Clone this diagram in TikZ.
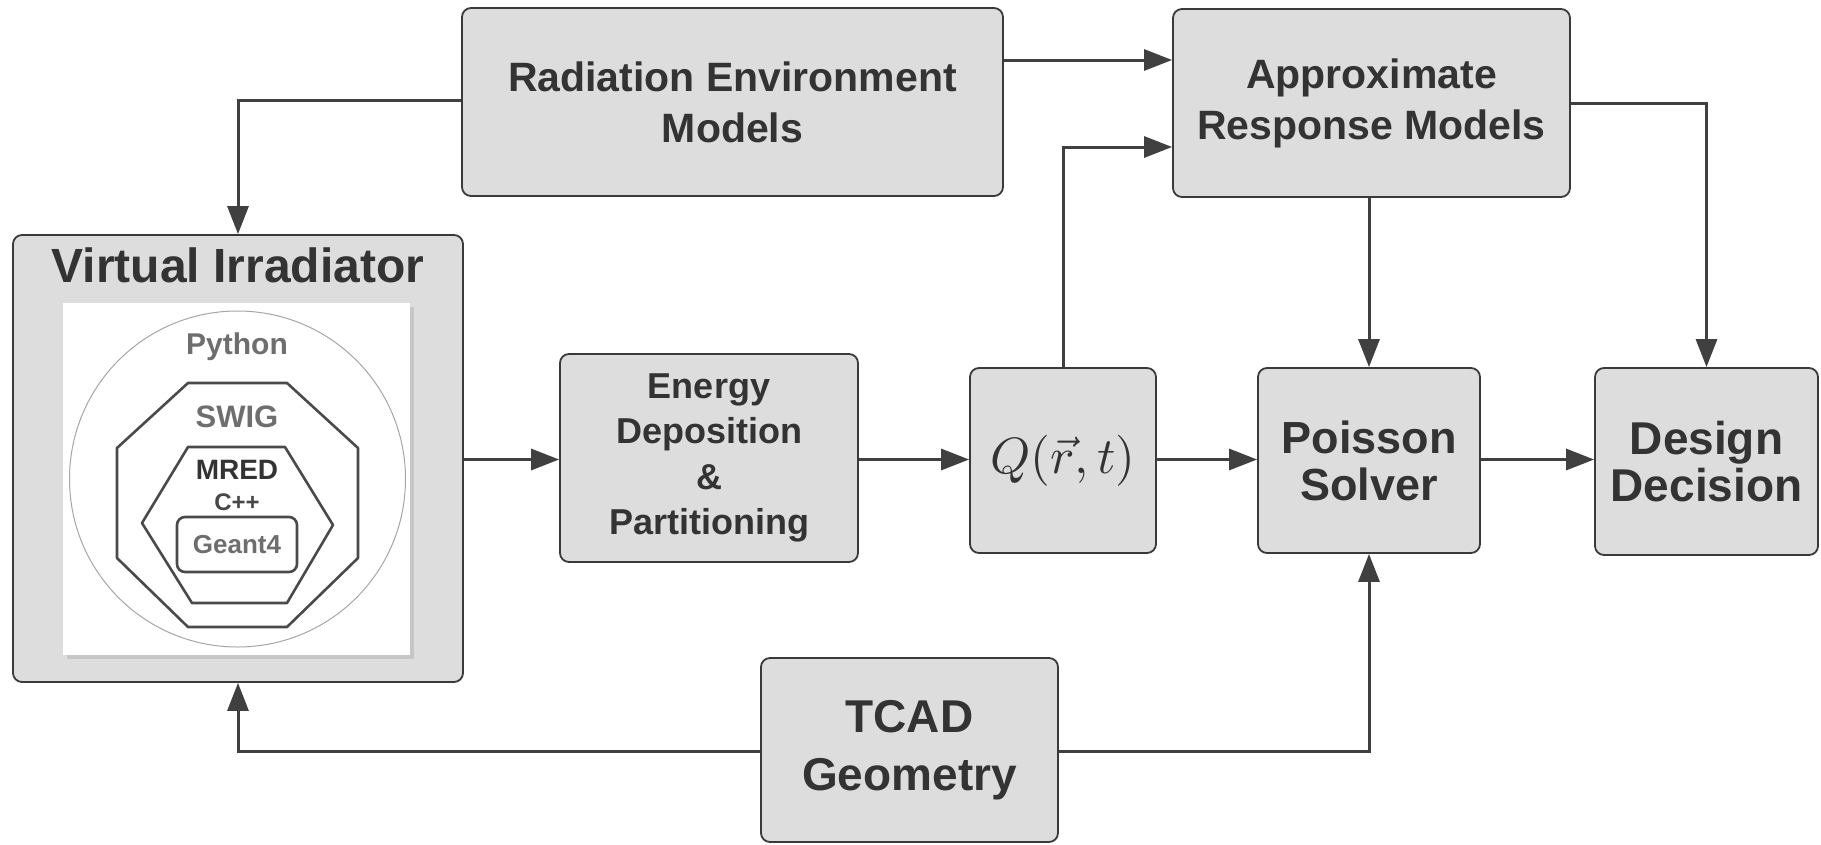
\documentclass[tikz,border=0pt]{standalone}
\usepackage{graphicx}
\usepackage{fontspec}
\setmainfont{Liberation Sans}
\usetikzlibrary{arrows.meta,calc}
\definecolor{boxfill}{HTML}{DDDDDD}
\definecolor{boxline}{HTML}{3A3A3A}
\definecolor{txt}{HTML}{333333}
\definecolor{conncol}{HTML}{404040}
\definecolor{lightxt}{HTML}{6E6E6E}
\definecolor{polycol}{HTML}{4A4A4A}
\begin{document}
\begin{tikzpicture}[x=1pt,y=-1pt,
  box/.style={draw=boxline, fill=boxfill, line width=1.8pt, rounded corners=9pt,
    inner sep=0pt, align=center, text=txt},
  conn/.style={draw=conncol, line width=3pt, -{Triangle[length=28pt,width=21pt]}},
  lbl/.style={inner sep=0pt, align=center, font=\bfseries}]
\useasboundingbox[fill=white] (0,0) rectangle (1821,844);

% main boxes
\node[box, minimum width=541pt, minimum height=188pt,
  font=\bfseries\fontsize{41}{51}\selectfont] (rem) at (732.5,102)
  {Radiation Environment\\Models};
\node[box, minimum width=397pt, minimum height=188pt,
  font=\bfseries\fontsize{41}{51}\selectfont] (arm) at (1371.5,103)
  {Approximate\\Response Models};
\node[box, minimum width=450pt, minimum height=447pt] (vi) at (238,458.5) {};
\node[box, minimum width=298pt, minimum height=208pt,
  font=\bfseries\fontsize{36}{45.3}\selectfont] (en) at (709,458)
  {Energy\\Deposition\\\&\\Partitioning};
\node[box, minimum width=186pt, minimum height=185pt] (q) at (1063,460.5)
  {\scalebox{5.1}{$Q(\vec{r},t)$}};
\node[box, minimum width=222pt, minimum height=185pt,
  font=\bfseries\fontsize{45}{47}\selectfont] (ps) at (1369,460.5)
  {Poisson\\Solver};
\node[box, minimum width=223pt, minimum height=187pt,
  font=\bfseries\fontsize{46}{47}\selectfont] (dd) at (1706.5,461.5)
  {Design\\Decision};
\node[box, minimum width=297pt, minimum height=184pt,
  font=\bfseries\fontsize{46}{58}\selectfont] (tcad) at (909.5,750)
  {TCAD\\Geometry};

% virtual irradiator content
\node[lbl, text=txt, anchor=base, font=\bfseries\fontsize{48}{50}\selectfont]
  (vititle) at (238,282) {Virtual Irradiator};
\fill[gray!45] (67,307) rectangle (414,659);
\fill[white] (63,303) rectangle (410,655);
\draw[gray!70, line width=1pt] (237.5,479) circle[radius=168];
\draw[polycol, line width=2.6pt, line join=round]
  (188,383) -- (287,383) -- (358,448) -- (358,558) -- (287,627)
  -- (188,627) -- (117,558) -- (117,448) -- cycle;
\draw[polycol, line width=2.6pt, line join=round]
  (188,447) -- (285,447) -- (333,525) -- (287,603) -- (192,603)
  -- (142,523) -- cycle;
\draw[polycol, line width=2.6pt, rounded corners=8pt] (177,517) rectangle (297,572);
\node[lbl, text=lightxt, font=\bfseries\fontsize{30}{32}\selectfont] (py) at (237,347) {Python};
\node[lbl, text=lightxt, font=\bfseries\fontsize{31}{32}\selectfont] (swig) at (237,417) {SWIG};
\node[lbl, text=txt, font=\bfseries\fontsize{28}{30}\selectfont] (mred) at (237,470) {MRED};
\node[lbl, text=txt!90, font=\bfseries\fontsize{24}{26}\selectfont] (cpp) at (237,502) {C++};
\node[lbl, text=lightxt, font=\bfseries\fontsize{26}{28}\selectfont] (g4) at (237,545) {Geant4};

% helper coordinates
\coordinate (yA) at (0,60);
\coordinate (yB) at (0,147);
\coordinate (yC) at (0,103);
\coordinate (yL) at (0,100);
\coordinate (yMid) at (0,459.5);
\coordinate (yM) at (0,751);

% connectors
\draw[conn] (rem.west |- yL) -| (vi.north);
\draw[conn] (rem.east |- yA) -- (arm.west |- yA);
\draw[conn] (q.north) |- (arm.west |- yB);
\draw[conn] (arm.south -| ps.north) -- (ps.north);
\draw[conn] (arm.east |- yC) -| (dd.north);
\draw[conn] (vi.east |- yMid) -- (en.west |- yMid);
\draw[conn] (en.east |- yMid) -- (q.west |- yMid);
\draw[conn] (q.east |- yMid) -- (ps.west |- yMid);
\draw[conn] (ps.east |- yMid) -- (dd.west |- yMid);
\draw[conn] (tcad.west |- yM) -| (vi.south);
\draw[conn] (tcad.east |- yM) -| (ps.south);
\end{tikzpicture}
\end{document}
